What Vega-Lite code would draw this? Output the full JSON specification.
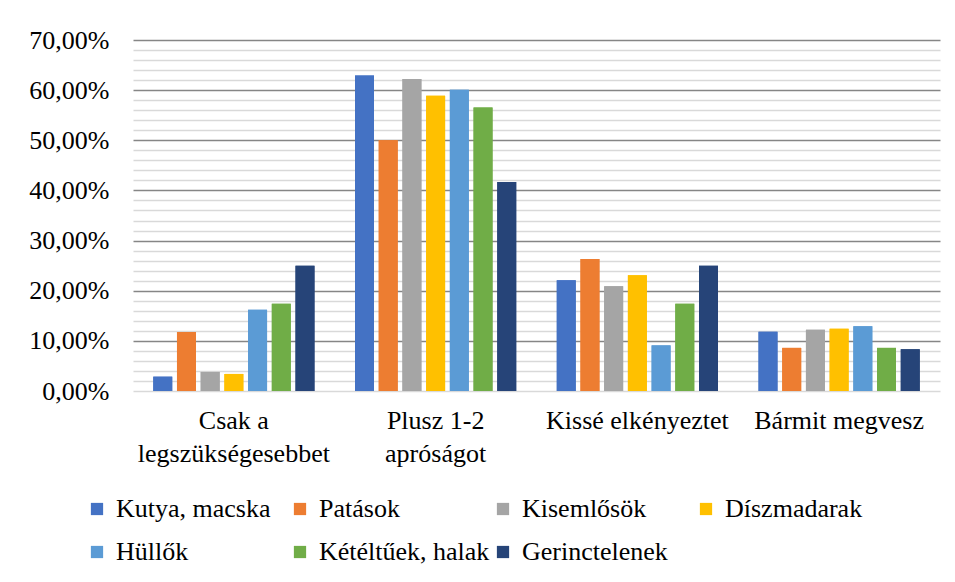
{
  "$schema": "https://vega.github.io/schema/vega-lite/v6.json",
  "width": 807,
  "height": 351,
  "autosize": {"type": "none"},
  "padding": {"left": 133, "top": 40, "right": 15, "bottom": 191},
  "background": "white",
  "config": {
    "font": "Liberation Serif",
    "view": {"stroke": null},
    "legend": {"gridAlign": "all"}
  },
  "data": {
    "values": [
      {"category": "Csak a legszükségesebbet", "series": "Kutya, macska", "value": 0.0286},
      {"category": "Csak a legszükségesebbet", "series": "Patások", "value": 0.1176},
      {"category": "Csak a legszükségesebbet", "series": "Kisemlősök", "value": 0.038},
      {"category": "Csak a legszükségesebbet", "series": "Díszmadarak", "value": 0.034},
      {"category": "Csak a legszükségesebbet", "series": "Hüllők", "value": 0.162},
      {"category": "Csak a legszükségesebbet", "series": "Kétéltűek, halak", "value": 0.1739},
      {"category": "Csak a legszükségesebbet", "series": "Gerinctelenek", "value": 0.25},
      {"category": "Plusz 1-2 apróságot", "series": "Kutya, macska", "value": 0.629},
      {"category": "Plusz 1-2 apróságot", "series": "Patások", "value": 0.5},
      {"category": "Plusz 1-2 apróságot", "series": "Kisemlősök", "value": 0.622},
      {"category": "Plusz 1-2 apróságot", "series": "Díszmadarak", "value": 0.589},
      {"category": "Plusz 1-2 apróságot", "series": "Hüllők", "value": 0.601},
      {"category": "Plusz 1-2 apróságot", "series": "Kétéltűek, halak", "value": 0.5652},
      {"category": "Plusz 1-2 apróságot", "series": "Gerinctelenek", "value": 0.4167},
      {"category": "Kissé elkényeztet", "series": "Kutya, macska", "value": 0.221},
      {"category": "Kissé elkényeztet", "series": "Patások", "value": 0.263},
      {"category": "Kissé elkényeztet", "series": "Kisemlősök", "value": 0.209},
      {"category": "Kissé elkényeztet", "series": "Díszmadarak", "value": 0.231},
      {"category": "Kissé elkényeztet", "series": "Hüllők", "value": 0.091},
      {"category": "Kissé elkényeztet", "series": "Kétéltűek, halak", "value": 0.1739},
      {"category": "Kissé elkényeztet", "series": "Gerinctelenek", "value": 0.25},
      {"category": "Bármit megvesz", "series": "Kutya, macska", "value": 0.118},
      {"category": "Bármit megvesz", "series": "Patások", "value": 0.086},
      {"category": "Bármit megvesz", "series": "Kisemlősök", "value": 0.122},
      {"category": "Bármit megvesz", "series": "Díszmadarak", "value": 0.124},
      {"category": "Bármit megvesz", "series": "Hüllők", "value": 0.129},
      {"category": "Bármit megvesz", "series": "Kétéltűek, halak", "value": 0.086},
      {"category": "Bármit megvesz", "series": "Gerinctelenek", "value": 0.0833}
    ]
  },
  "encoding": {
    "x": {
      "field": "category",
      "type": "nominal",
      "sort": null,
      "scale": {"paddingInner": 0, "paddingOuter": 0},
      "axis": {
        "title": null,
        "labelAngle": 0,
        "ticks": false,
        "domain": false,
        "labelFont": "Liberation Serif",
        "labelFontSize": 26,
        "labelColor": "#000000",
        "labelPadding": 16,
        "labelLineHeight": 33,
        "labelLimit": 300,
        "labelExpr": "datum.value == 'Csak a legszükségesebbet' ? ['Csak a', 'legszükségesebbet'] : datum.value == 'Plusz 1-2 apróságot' ? ['Plusz 1-2', 'apróságot'] : datum.label"
      }
    },
    "xOffset": {
      "field": "series",
      "type": "nominal",
      "sort": ["Kutya, macska", "Patások", "Kisemlősök", "Díszmadarak", "Hüllők", "Kétéltűek, halak", "Gerinctelenek"],
      "scale": {"paddingInner": 0.2, "paddingOuter": 0.855}
    },
    "color": {
      "field": "series",
      "type": "nominal",
      "scale": {
        "domain": ["Kutya, macska", "Patások", "Kisemlősök", "Díszmadarak", "Hüllők", "Kétéltűek, halak", "Gerinctelenek"],
        "range": ["#4472C4", "#ED7D31", "#A5A5A5", "#FFC000", "#5B9BD5", "#70AD47", "#264478"]
      },
      "legend": {
        "title": null,
        "orient": "none",
        "legendX": -49,
        "legendY": 456,
        "direction": "horizontal",
        "columns": 4,
        "symbolType": "square",
        "symbolSize": 150,
        "symbolStrokeWidth": 0,
        "labelFont": "Liberation Serif",
        "labelFontSize": 26,
        "labelColor": "#000000",
        "labelLimit": 300,
        "labelOffset": 6,
        "columnPadding": -1,
        "rowPadding": 17,
        "padding": 0
      }
    }
  },
  "layer": [
    {
      "mark": {"type": "bar"},
      "encoding": {
        "y": {
          "field": "value",
          "type": "quantitative",
          "scale": {"domain": [0, 0.7], "nice": false},
          "axis": {
            "orient": "left",
            "title": null,
            "values": [0.02, 0.04, 0.06, 0.08, 0.12, 0.14, 0.16, 0.18, 0.22, 0.24, 0.26, 0.28, 0.32, 0.34, 0.36, 0.38, 0.42, 0.44, 0.46, 0.48, 0.52, 0.54, 0.56, 0.58, 0.62, 0.64, 0.66, 0.68],
            "labels": false,
            "ticks": false,
            "domain": false,
            "grid": true,
            "gridColor": "#D9D9D9",
            "gridWidth": 1.3
          }
        }
      }
    },
    {
      "mark": {"type": "bar"},
      "encoding": {
        "y": {
          "field": "value",
          "type": "quantitative",
          "scale": {"domain": [0, 0.7], "nice": false},
          "axis": {
            "orient": "left",
            "title": null,
            "values": [0, 0.1, 0.2, 0.3, 0.4, 0.5, 0.6, 0.7],
            "labelExpr": "replace(format(datum.value, '.2%'), '.', ',')",
            "labelFont": "Liberation Serif",
            "labelFontSize": 26,
            "labelColor": "#000000",
            "labelPadding": 24,
            "ticks": false,
            "domain": false,
            "grid": true,
            "gridColor": {"condition": {"test": "datum.value === 0", "value": "#D9D9D9"}, "value": "#868686"},
            "gridWidth": 1.3
          }
        }
      }
    }
  ],
  "resolve": {"axis": {"y": "independent"}}
}
